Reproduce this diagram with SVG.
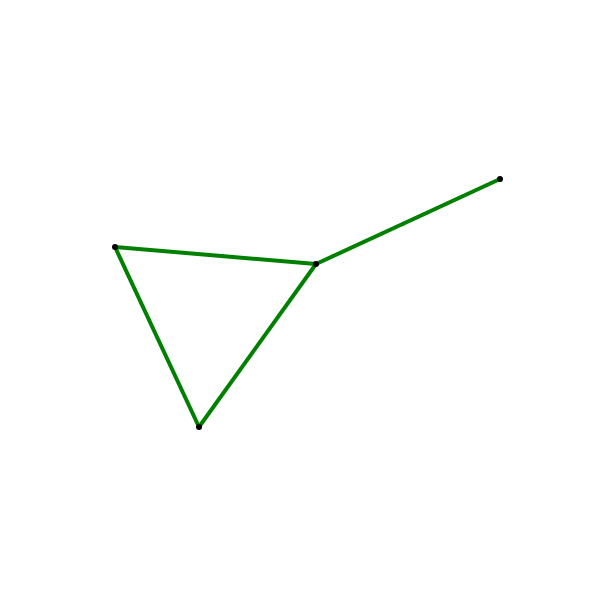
<svg xmlns="http://www.w3.org/2000/svg" width="600" height="600" viewBox="0 0 600 600">
<style>
.edge{stroke:#008000;stroke-width:4;fill:none;stroke-linecap:butt}
.node{fill:#000}
</style>
<rect width="600" height="600" fill="#fff"/>
<g id="edges">
<line class="edge" x1="115" y1="247" x2="316" y2="264"/>
<line class="edge" x1="115" y1="247" x2="199" y2="427"/>
<line class="edge" x1="199" y1="427" x2="316" y2="264"/>
<line class="edge" x1="316" y1="264" x2="500" y2="179"/>
</g>
<g id="n0"><circle class="node" cx="115" cy="247" r="3"/></g>
<g id="n1"><circle class="node" cx="316" cy="264" r="3"/></g>
<g id="n2"><circle class="node" cx="500" cy="179" r="3"/></g>
<g id="n3"><circle class="node" cx="199" cy="427" r="3"/></g>
</svg>
